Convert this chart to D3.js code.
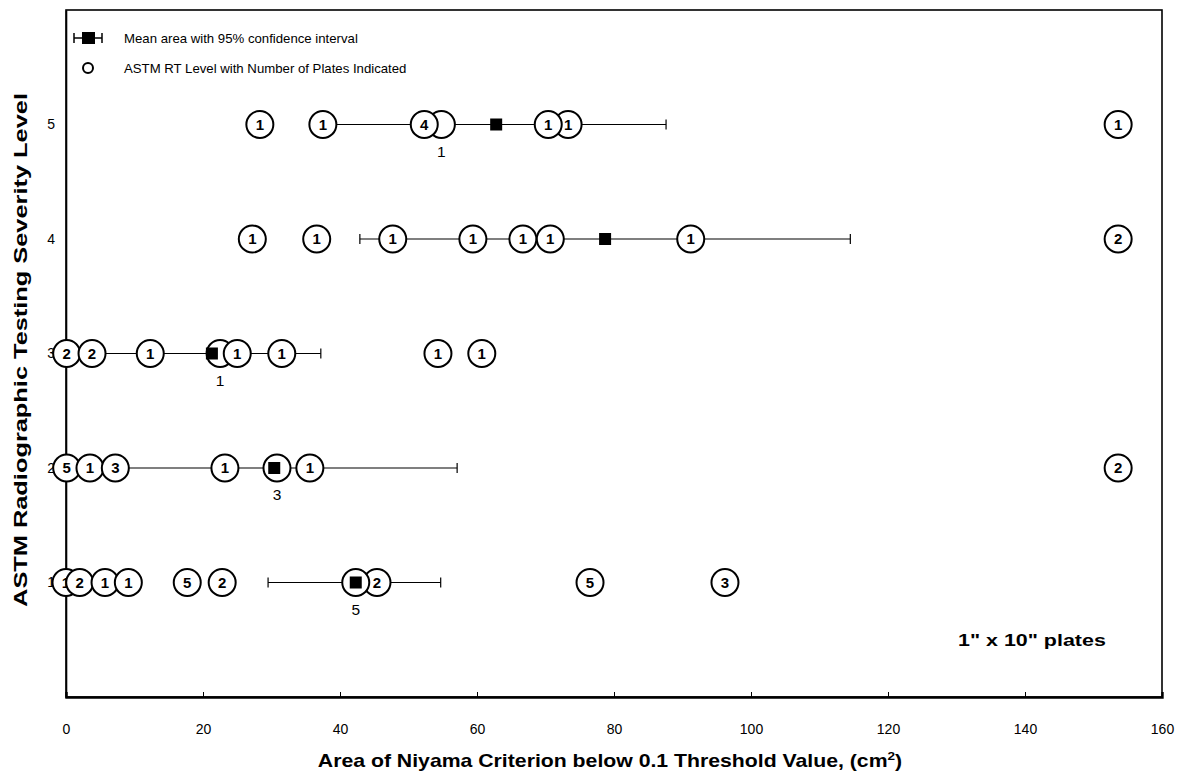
<!DOCTYPE html>
<html>
<head>
<meta charset="utf-8">
<script src="https://cdn.jsdelivr.net/npm/d3@7"></script>
<style>
  html, body { margin: 0; padding: 0; background: #fff; }
  svg { display: block; font-family: "Liberation Sans", Arial, Helvetica, sans-serif; }
</style>
</head>
<body>
<svg id="chart" width="1182" height="781"></svg>
<script>
// ---- data ----
const xTicks = [0, 20, 40, 60, 80, 100, 120, 140, 160];
const yTicks = [1, 2, 3, 4, 5];
// circles per level: [area, number of plates, count shown below (hidden circle)]
const level1 = [[0.0, 1, false], [2.0, 2, false], [5.7, 1, false], [9.1, 1, false], [17.7, 5, false], [22.8, 2, false], [45.4, 2, false], [42.3, 5, true], [76.5, 5, false], [96.2, 3, false]];
const level2 = [[0.1, 5, false], [3.5, 1, false], [7.2, 3, false], [23.2, 1, false], [35.6, 1, false], [30.8, 3, true], [153.6, 2, false]];
const level3 = [[0.1, 2, false], [3.8, 2, false], [12.3, 1, false], [22.5, 1, true], [25.0, 1, false], [31.5, 1, false], [54.3, 1, false], [60.7, 1, false]];
const level4 = [[27.2, 1, false], [36.6, 1, false], [47.7, 1, false], [59.4, 1, false], [66.7, 1, false], [70.7, 1, false], [91.2, 1, false], [153.6, 2, false]];
const level5 = [[28.3, 1, false], [37.5, 1, false], [54.8, 1, true], [52.3, 4, false], [73.3, 1, false], [70.4, 1, false], [153.6, 1, false]];
const meanLevels = [1, 2, 3, 4, 5];
const meanValues = [42.3, 30.4, 21.3, 78.7, 62.8];
const ciLow = [29.5, 8.0, 5.0, 42.9, 37.0];
const ciHigh = [54.7, 57.1, 37.2, 114.5, 87.6];
const legendLabels = ["Mean area with 95% confidence interval", "ASTM RT Level with Number of Plates Indicated"];
const xTitle = "Area of Niyama Criterion below 0.1 Threshold Value, (cm";
const yTitle = "ASTM Radiographic Testing Severity Level";
const note = "1\" x 10\" plates";

// ---- build ----
const levels = [level1, level2, level3, level4, level5];
const points = [];
levels.forEach((arr, i) => arr.forEach(d => points.push({ level: i + 1, x: d[0], n: d[1], below: d[2] })));
const means = meanLevels.map((l, i) => ({ level: l, mean: meanValues[i], lo: ciLow[i], hi: ciHigh[i] }));

const svg = d3.select("#chart");
const x = d3.scaleLinear().domain([0, 160]).range([66, 1162]);
const y = d3.scaleLinear().domain([0, 6]).range([697, 10]);

// frame
svg.append("rect")
  .attr("x", x(0)).attr("y", y(6))
  .attr("width", x(160) - x(0)).attr("height", y(0) - y(6))
  .attr("fill", "none").attr("stroke", "#000").attr("stroke-width", 1.6);

// x axis
const xAxis = svg.append("g").attr("transform", `translate(0,${y(0)})`)
  .call(d3.axisBottom(x).tickValues(xTicks).tickSize(-5).tickPadding(27).tickFormat(d3.format("d")));
xAxis.select(".domain").attr("stroke-width", 2.4);
xAxis.selectAll(".tick line").attr("stroke-width", 1);
xAxis.selectAll(".tick text").attr("font-size", 14).attr("font-family", "Liberation Sans, Arial, sans-serif");

// y axis
const yAxis = svg.append("g").attr("transform", `translate(${x(0)},0)`)
  .call(d3.axisLeft(y).tickValues(yTicks).tickSize(0).tickPadding(11).tickFormat(d3.format("d")));
yAxis.select(".domain").attr("stroke-width", 1.6);
yAxis.selectAll(".tick text").attr("font-size", 14).attr("font-family", "Liberation Sans, Arial, sans-serif");

// error bars
const eb = svg.append("g").attr("stroke", "#000").attr("stroke-width", 1.2);
eb.selectAll("line.ci").data(means).join("line")
  .attr("x1", d => x(d.lo)).attr("x2", d => x(d.hi))
  .attr("y1", d => y(d.level)).attr("y2", d => y(d.level));
eb.selectAll("line.lo").data(means).join("line")
  .attr("x1", d => x(d.lo)).attr("x2", d => x(d.lo))
  .attr("y1", d => y(d.level) - 5).attr("y2", d => y(d.level) + 5);
eb.selectAll("line.hi").data(means).join("line")
  .attr("x1", d => x(d.hi)).attr("x2", d => x(d.hi))
  .attr("y1", d => y(d.level) - 5).attr("y2", d => y(d.level) + 5);

// circles
const R = 13.5;
const cg = svg.append("g");
const pg = cg.selectAll("g").data(points).join("g")
  .attr("transform", d => `translate(${x(d.x)},${y(d.level)})`);
pg.append("circle").attr("r", R).attr("fill", "#fff").attr("stroke", "#000").attr("stroke-width", 2);
pg.filter(d => !d.below).append("text")
  .attr("text-anchor", "middle").attr("dy", "0.36em")
  .attr("font-size", 15).attr("font-weight", "bold").text(d => d.n);
// counts written below hidden circles
svg.append("g").selectAll("text").data(points.filter(d => d.below)).join("text")
  .attr("x", d => x(d.x)).attr("y", d => y(d.level) + 32)
  .attr("text-anchor", "middle").attr("font-size", 15.5).text(d => d.n);

// mean squares
svg.append("g").selectAll("rect").data(means).join("rect")
  .attr("x", d => x(d.mean) - 6).attr("y", d => y(d.level) - 6)
  .attr("width", 12).attr("height", 12).attr("fill", "#000");

// legend
const lg = svg.append("g").attr("transform", "translate(74,38)");
lg.append("line").attr("x1", 0).attr("x2", 28).attr("y1", 0).attr("y2", 0).attr("stroke", "#000").attr("stroke-width", 1.5);
lg.append("line").attr("x1", 0).attr("x2", 0).attr("y1", -5).attr("y2", 5).attr("stroke", "#000").attr("stroke-width", 1.5);
lg.append("line").attr("x1", 28).attr("x2", 28).attr("y1", -5).attr("y2", 5).attr("stroke", "#000").attr("stroke-width", 1.5);
lg.append("rect").attr("x", 8).attr("y", -6).attr("width", 13).attr("height", 12).attr("fill", "#000");
lg.append("circle").attr("cx", 14).attr("cy", 30).attr("r", 5).attr("fill", "none").attr("stroke", "#000").attr("stroke-width", 2);
lg.selectAll("text").data(legendLabels).join("text")
  .attr("x", 50).attr("y", (d, i) => i * 30 + 5).attr("font-size", 13.2).text(d => d);

// annotation
svg.append("text").attr("transform", `translate(${x(151.8)},${y(0.5) + 6}) scale(1.3,1)`)
  .attr("text-anchor", "end").attr("font-size", 16.5).attr("font-weight", "bold").text(note);

// axis titles
const xt = svg.append("text").attr("transform", "translate(610,767) scale(1.18,1)").attr("text-anchor", "middle")
  .attr("font-size", 18).attr("font-weight", "bold");
xt.append("tspan").text(xTitle);
xt.append("tspan").attr("dy", -7).attr("font-size", 11.5).text("2");
xt.append("tspan").attr("dy", 7).text(")");
svg.append("text").attr("transform", "translate(27,350) rotate(-90) scale(1.45,1)")
  .attr("text-anchor", "middle").attr("font-size", 17.5).attr("font-weight", "bold").text(yTitle);
</script>
</body>
</html>
